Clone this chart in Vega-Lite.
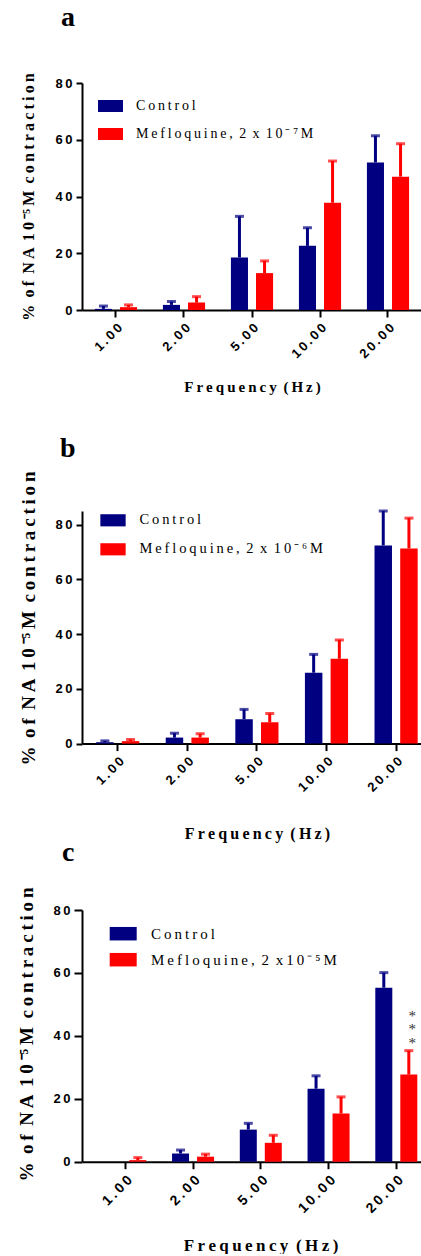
{
  "$schema": "https://vega.github.io/schema/vega-lite/v6.json",
  "background": "white",
  "padding": {"left": 16, "top": 4, "right": 0, "bottom": 0},
  "config": {
    "view": {"stroke": null},
    "axis": {"domainColor": "black", "domainWidth": 2, "tickColor": "black", "tickWidth": 2, "grid": false, "labelColor": "black", "titleColor": "black", "labelFont": "Liberation Sans", "labelFontWeight": "bold", "titleFont": "Liberation Serif", "titleFontWeight": "bold", "labelFontSize": 13},
    "title": {"anchor": "start", "frame": "group", "font": "Liberation Serif", "fontSize": 28, "fontWeight": "bold", "color": "black", "baseline": "alphabetic"}
  },
  "datasets": {
    "a": [
      {"freq": "1.00", "group": "Control", "mean": 0.4, "hi": 1.4},
      {"freq": "1.00", "group": "Mefloquine, 2 x 10⁻⁷M", "mean": 1.0, "hi": 1.8},
      {"freq": "2.00", "group": "Control", "mean": 1.8, "hi": 3.0},
      {"freq": "2.00", "group": "Mefloquine, 2 x 10⁻⁷M", "mean": 2.6, "hi": 4.7},
      {"freq": "5.00", "group": "Control", "mean": 18.5, "hi": 33.0},
      {"freq": "5.00", "group": "Mefloquine, 2 x 10⁻⁷M", "mean": 13.0, "hi": 17.3},
      {"freq": "10.00", "group": "Control", "mean": 22.6, "hi": 29.0},
      {"freq": "10.00", "group": "Mefloquine, 2 x 10⁻⁷M", "mean": 37.8, "hi": 52.5},
      {"freq": "20.00", "group": "Control", "mean": 52.0, "hi": 61.4},
      {"freq": "20.00", "group": "Mefloquine, 2 x 10⁻⁷M", "mean": 47.0, "hi": 58.6}
    ],
    "b": [
      {"freq": "1.00", "group": "Control", "mean": 0.5, "hi": 1.0},
      {"freq": "1.00", "group": "Mefloquine, 2 x 10⁻⁶M", "mean": 0.9, "hi": 1.5},
      {"freq": "2.00", "group": "Control", "mean": 2.2, "hi": 3.8},
      {"freq": "2.00", "group": "Mefloquine, 2 x 10⁻⁶M", "mean": 2.2, "hi": 3.6},
      {"freq": "5.00", "group": "Control", "mean": 8.9, "hi": 12.5},
      {"freq": "5.00", "group": "Mefloquine, 2 x 10⁻⁶M", "mean": 7.8, "hi": 11.0},
      {"freq": "10.00", "group": "Control", "mean": 25.9, "hi": 32.6},
      {"freq": "10.00", "group": "Mefloquine, 2 x 10⁻⁶M", "mean": 31.0, "hi": 37.9},
      {"freq": "20.00", "group": "Control", "mean": 72.4, "hi": 85.0},
      {"freq": "20.00", "group": "Mefloquine, 2 x 10⁻⁶M", "mean": 71.3, "hi": 82.4}
    ],
    "c": [
      {"freq": "1.00", "group": "Control", "mean": 0.0, "hi": null},
      {"freq": "1.00", "group": "Mefloquine, 2 x10⁻⁵M", "mean": 0.5, "hi": 1.3},
      {"freq": "2.00", "group": "Control", "mean": 2.6, "hi": 3.7},
      {"freq": "2.00", "group": "Mefloquine, 2 x10⁻⁵M", "mean": 1.6, "hi": 2.4},
      {"freq": "5.00", "group": "Control", "mean": 10.2, "hi": 12.2},
      {"freq": "5.00", "group": "Mefloquine, 2 x10⁻⁵M", "mean": 6.0, "hi": 8.4},
      {"freq": "10.00", "group": "Control", "mean": 23.2, "hi": 27.3},
      {"freq": "10.00", "group": "Mefloquine, 2 x10⁻⁵M", "mean": 15.3, "hi": 20.6},
      {"freq": "20.00", "group": "Control", "mean": 55.3, "hi": 60.1},
      {"freq": "20.00", "group": "Mefloquine, 2 x10⁻⁵M", "mean": 27.7, "hi": 35.3, "sig": "* * *"}
    ]
  },
  "columns": 1,
  "align": "none",
  "spacing": -3,
  "resolve": {"scale": {"color": "independent", "xOffset": "independent", "x": "independent", "y": "independent"}, "legend": {"color": "independent"}},
  "concat": [
    {
      "columns": 1,
      "align": "none",
      "spacing": 41,
      "resolve": {"scale": {"color": "independent", "xOffset": "independent", "x": "independent", "y": "independent"}, "legend": {"color": "independent"}},
      "concat": [
        {
          "title": {"text": "a", "offset": 40, "dx": -21},
          "width": 340, "height": 227,
          "data": {"name": "a"},
          "encoding": {
            "x": {"field": "freq", "type": "nominal", "sort": null, "scale": {"paddingInner": 0.38, "paddingOuter": 0.19},
                  "axis": {"labelAngle": -45, "tickSize": 7, "labelPadding": 4, "titleFontSize": 15, "titleY": 81, "titleBaseline": "alphabetic", "labelExpr": "replace(datum.label, regexp('(?<=.)(?=.)', 'g'), '\u2009')"},
                  "title": "F\u2009r\u2009e\u2009q\u2009u\u2009e\u2009n\u2009c\u2009y \u2009(\u2009H\u2009z\u2009)"},
            "xOffset": {"field": "group", "type": "nominal", "sort": null, "scale": {"domain": ["Control", "Mefloquine, 2 x 10⁻⁷M"], "paddingInner": 0.32, "paddingOuter": 0}},
            "y": {"field": "mean", "type": "quantitative", "scale": {"domain": [0, 80], "nice": false},
                  "axis": {"values": [0, 20, 40, 60, 80], "tickSize": 6, "labelPadding": 4, "titleFontSize": 16, "titleX": -49, "titleBaseline": "alphabetic", "labelExpr": "replace(datum.label, regexp('(?<=.)(?=.)', 'g'), '\u2009')"},
                  "title": "%\u2009 o\u2009f \u2009N\u2009A \u20091\u20090\u2009⁻⁵\u2009M \u2009c\u2009o\u2009n\u2009t\u2009r\u2009a\u2009c\u2009t\u2009i\u2009o\u2009n"}
          },
          "layer": [
            {
              "mark": {"type": "bar"},
              "encoding": {
                "color": {"field": "group", "type": "nominal", "scale": {"domain": ["Control", "Mefloquine, 2 x 10⁻⁷M"], "range": ["#000080", "#FF0000"]},
                          "legend": {"title": null, "orient": "none", "legendX": 16, "legendY": 10.5, "direction": "vertical", "padding": 0, "symbolType": "M-1,-0.48H1V0.48H-1Z", "symbolSize": 625, "symbolStrokeWidth": 0, "rowPadding": 8, "labelOffset": 13, "labelFont": "Liberation Serif", "labelFontSize": 14, "labelColor": "black", "labelLimit": 0, "labelExpr": "replace(datum.label, regexp('(?<=[^ ])(?=.)', 'g'), '\u2009')"}}
              }
            },
            {
              "mark": {"type": "rule", "strokeWidth": 3},
              "encoding": {
                "y2": {"field": "hi"},
                "color": {"field": "group", "type": "nominal", "legend": null}
              }
            },
            {
              "mark": {"type": "tick", "size": 9, "thickness": 3},
              "encoding": {
                "y": {"field": "hi", "type": "quantitative"},
                "color": {"field": "group", "type": "nominal", "legend": null}
              }
            }
          ]
        },
        {
          "title": {"text": "b", "offset": 7, "dx": -22},
          "width": 349.8, "height": 232.6,
          "data": {"name": "b"},
          "encoding": {
            "x": {"field": "freq", "type": "nominal", "sort": null, "scale": {"paddingInner": 0.38, "paddingOuter": 0.203},
                  "axis": {"labelAngle": -45, "tickSize": 7, "labelPadding": 4, "titleFontSize": 16, "titleY": 95, "titleBaseline": "alphabetic", "labelExpr": "replace(datum.label, regexp('(?<=.)(?=.)', 'g'), '\u2009')"},
                  "title": "F\u2009r\u2009e\u2009q\u2009u\u2009e\u2009n\u2009c\u2009y \u2009(\u2009H\u2009z\u2009)"},
            "xOffset": {"field": "group", "type": "nominal", "sort": null, "scale": {"domain": ["Control", "Mefloquine, 2 x 10⁻⁶M"], "paddingInner": 0.32, "paddingOuter": 0}},
            "y": {"field": "mean", "type": "quantitative", "scale": {"domain": [0, 85], "nice": false},
                  "axis": {"values": [0, 20, 40, 60, 80], "tickSize": 6, "labelPadding": 4, "titleFontSize": 19, "titleX": -47.6, "titleY": 107, "titleBaseline": "alphabetic", "labelExpr": "replace(datum.label, regexp('(?<=.)(?=.)', 'g'), '\u2009')"},
                  "title": "%\u2009 o\u2009f \u2009N\u2009A \u20091\u20090\u2009⁻⁵\u2009M \u2009c\u2009o\u2009n\u2009t\u2009r\u2009a\u2009c\u2009t\u2009i\u2009o\u2009n"}
          },
          "layer": [
            {
              "mark": {"type": "bar"},
              "encoding": {
                "color": {"field": "group", "type": "nominal", "scale": {"domain": ["Control", "Mefloquine, 2 x 10⁻⁶M"], "range": ["#000080", "#FF0000"]},
                          "legend": {"title": null, "orient": "none", "legendX": 18, "legendY": -3.7, "direction": "vertical", "padding": 0, "symbolType": "M-1,-0.48H1V0.48H-1Z", "symbolSize": 640, "symbolStrokeWidth": 0, "rowPadding": 9, "labelOffset": 13.4, "labelFont": "Liberation Serif", "labelFontSize": 14.5, "labelColor": "black", "labelLimit": 0, "labelExpr": "replace(datum.label, regexp('(?<=[^ ])(?=.)', 'g'), '\u2009')"}}
              }
            },
            {
              "mark": {"type": "rule", "strokeWidth": 3},
              "encoding": {
                "y2": {"field": "hi"},
                "color": {"field": "group", "type": "nominal", "legend": null}
              }
            },
            {
              "mark": {"type": "tick", "size": 9, "thickness": 3},
              "encoding": {
                "y": {"field": "hi", "type": "quantitative"},
                "color": {"field": "group", "type": "nominal", "legend": null}
              }
            }
          ]
        }
      ]
    },
    {
      "title": {"text": "c", "offset": 19, "dx": -20},
      "width": 357.6, "height": 251.7,
      "data": {"name": "c"},
      "encoding": {
        "x": {"field": "freq", "type": "nominal", "sort": null, "scale": {"paddingInner": 0.38, "paddingOuter": 0.329},
              "axis": {"labelAngle": -45, "tickSize": 7, "labelPadding": 4, "labelFontSize": 14, "titleFontSize": 17, "titleX": 178.5, "titleY": 88.5, "titleBaseline": "alphabetic", "labelExpr": "replace(datum.label, regexp('(?<=.)(?=.)', 'g'), '\u2009')"},
              "title": "F\u2009r\u2009e\u2009q\u2009u\u2009e\u2009n\u2009c\u2009y \u2009(\u2009H\u2009z\u2009)"},
        "xOffset": {"field": "group", "type": "nominal", "sort": null, "scale": {"domain": ["Control", "Mefloquine, 2 x10⁻⁵M"], "paddingInner": 0.32, "paddingOuter": 0}},
        "y": {"field": "mean", "type": "quantitative", "scale": {"domain": [0, 80], "nice": false},
              "axis": {"values": [0, 20, 40, 60, 80], "tickSize": 8, "labelPadding": 4, "titleFontSize": 19, "titleX": -50, "titleY": 124, "titleBaseline": "alphabetic", "labelExpr": "replace(datum.label, regexp('(?<=.)(?=.)', 'g'), '\u2009')"},
              "title": "%\u2009 o\u2009f \u2009N\u2009A \u20091\u20090\u2009⁻⁵\u2009M \u2009c\u2009o\u2009n\u2009t\u2009r\u2009a\u2009c\u2009t\u2009i\u2009o\u2009n"}
      },
      "layer": [
        {
          "mark": {"type": "bar"},
          "encoding": {
            "color": {"field": "group", "type": "nominal", "scale": {"domain": ["Control", "Mefloquine, 2 x10⁻⁵M"], "range": ["#000080", "#FF0000"]},
                      "legend": {"title": null, "orient": "none", "legendX": 27.7, "legendY": 10.2, "direction": "vertical", "padding": 0, "symbolType": "M-1,-0.5H1V0.5H-1Z", "symbolSize": 729, "symbolStrokeWidth": 0, "rowPadding": 4, "labelOffset": 14.3, "labelFont": "Liberation Serif", "labelFontSize": 15, "labelColor": "black", "labelLimit": 0, "labelExpr": "replace(datum.label, regexp('(?<=[^ ])(?=.)', 'g'), '\u2009')"}}
          }
        },
        {
          "mark": {"type": "rule", "strokeWidth": 3},
          "encoding": {
            "y2": {"field": "hi"},
            "color": {"field": "group", "type": "nominal", "legend": null}
          }
        },
        {
          "mark": {"type": "tick", "size": 9, "thickness": 3},
          "encoding": {
            "y": {"field": "hi", "type": "quantitative"},
            "color": {"field": "group", "type": "nominal", "legend": null}
          }
        },
        {
          "transform": [{"filter": "isString(datum.sig)"}],
          "mark": {"type": "text", "font": "Liberation Serif", "fontSize": 15, "color": "#333333", "baseline": "bottom", "lineBreak": " ", "lineHeight": 13.5, "dx": 3.5, "dy": -27},
          "encoding": {
            "y": {"field": "hi", "type": "quantitative"},
            "text": {"field": "sig", "type": "nominal"}
          }
        }
      ]
    }
  ]
}
